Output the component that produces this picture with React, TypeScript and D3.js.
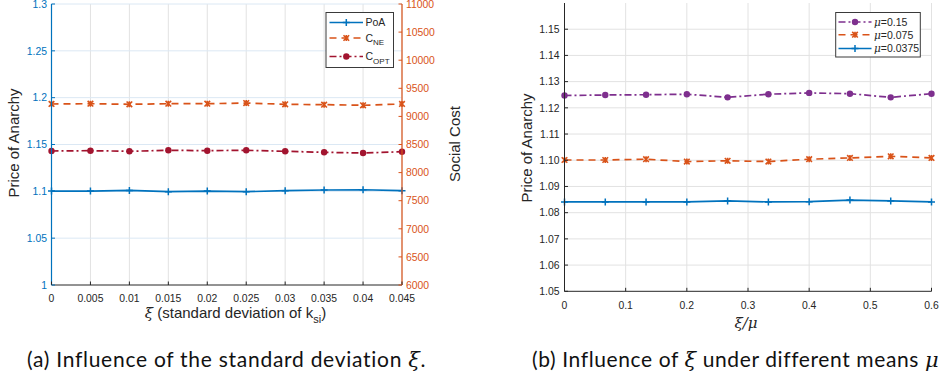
import React, { useEffect, useRef } from 'react'
import * as d3 from 'd3'

// ---- chart (a) data ----
const xiValues = [0, 0.005, 0.01, 0.015, 0.02, 0.025, 0.03, 0.035, 0.04, 0.045]
const poaValues = [1.1003, 1.1003, 1.101, 1.0996, 1.1003, 1.0996, 1.1007, 1.1014, 1.1017, 1.1007]
const cneValues = [9221, 9226, 9215, 9226, 9226, 9238, 9215, 9209, 9198, 9221]
const coptValues = [8384, 8390, 8379, 8397, 8390, 8397, 8379, 8361, 8349, 8372]
const leftTicksA = [1, 1.05, 1.1, 1.15, 1.2, 1.25, 1.3]
const rightTicksA = [6000, 6500, 7000, 7500, 8000, 8500, 9000, 9500, 10000, 10500, 11000]
const xTicksA = [0, 0.005, 0.01, 0.015, 0.02, 0.025, 0.03, 0.035, 0.04, 0.045]

// ---- chart (b) data ----
const ratioValues = [0, 1 / 15, 2 / 15, 3 / 15, 4 / 15, 5 / 15, 6 / 15, 7 / 15, 8 / 15, 9 / 15]
const mu015 = [1.1247, 1.1249, 1.125, 1.1252, 1.124, 1.1252, 1.1257, 1.1254, 1.124, 1.1254]
const mu0075 = [1.1001, 1.1001, 1.1004, 1.0995, 1.0998, 1.0995, 1.1004, 1.1009, 1.1015, 1.1009]
const mu00375 = [1.0841, 1.0841, 1.0841, 1.0841, 1.0845, 1.0841, 1.0842, 1.0848, 1.0845, 1.0841]
const yTicksB = [1.05, 1.06, 1.07, 1.08, 1.09, 1.1, 1.11, 1.12, 1.13, 1.14, 1.15]
const xTicksB = [0, 0.1, 0.2, 0.3, 0.4, 0.5, 0.6]

const BLUE = '#0072BD'
const ORANGE = '#D95319'
const RED = '#A2142F'
const PURPLE = '#7E2F8E'
const AXIS = '#262626'
const FONT = '"Liberation Sans", Arial, sans-serif'
const CAP_FONT = 'Lato, "Open Sans", sans-serif'
const SERIF = '"DejaVu Serif", "Liberation Serif", serif'

type Marker = 'plus' | 'x' | 'circle'

function drawMarker(g: d3.Selection<SVGGElement, unknown, null, undefined>, kind: Marker, x: number, y: number, color: string) {
    if (kind === 'plus') {
        g.append('path').attr('d', `M${x - 3.5},${y}H${x + 3.5}M${x},${y - 3.5}V${y + 3.5}`)
            .attr('stroke', color).attr('stroke-width', 1.5)
    } else if (kind === 'x') {
        g.append('path').attr('d', `M${x - 2.8},${y - 2.8}L${x + 2.8},${y + 2.8}M${x - 2.8},${y + 2.8}L${x + 2.8},${y - 2.8}M${x},${y - 3}V${y + 3}`)
            .attr('stroke', color).attr('stroke-width', 1.6)
    } else {
        g.append('circle').attr('cx', x).attr('cy', y).attr('r', 3.2).attr('fill', color)
    }
}

function drawSeries(g: d3.Selection<SVGGElement, unknown, null, undefined>, xs: number[], ys: number[],
    x: d3.ScaleLinear<number, number>, y: d3.ScaleLinear<number, number>, color: string, dash: string | null, marker: Marker) {
    const line = d3.line<number>().x((_, i) => x(xs[i])).y(d => y(d))
    g.append('path').attr('d', line(ys)).attr('fill', 'none').attr('stroke', color)
        .attr('stroke-width', 1.7).attr('stroke-dasharray', dash)
    ys.forEach((v, i) => drawMarker(g, marker, x(xs[i]), y(v), color))
}

export default function App() {
    const svgRef = useRef<SVGSVGElement>(null)

    useEffect(() => {
        if (!svgRef.current) return
        const svg = d3.select(svgRef.current)
        svg.selectAll('*').remove()

        // ================= chart (a) =================
        const a = { left: 51.5, right: 402, top: 4, bottom: 285 }
        const xA = d3.scaleLinear().domain([0, 0.045]).range([a.left, a.right])
        const yL = d3.scaleLinear().domain([1, 1.3]).range([a.bottom, a.top])
        const yR = d3.scaleLinear().domain([6000, 11000]).range([a.bottom, a.top])
        const gA = svg.append('g')

        // grid
        xTicksA.slice(1).forEach(t => {
            gA.append('line').attr('x1', xA(t)).attr('x2', xA(t)).attr('y1', a.top).attr('y2', a.bottom)
                .attr('stroke', '#e2e2e2').attr('stroke-width', 1)
        })
        leftTicksA.slice(1).forEach(t => {
            gA.append('line').attr('x1', a.left).attr('x2', a.right).attr('y1', yL(t)).attr('y2', yL(t))
                .attr('stroke', '#dbe8f4').attr('stroke-width', 1)
        })

        // series
        drawSeries(gA, xiValues, cneValues, xA, yR, ORANGE, '7,5', 'x')
        drawSeries(gA, xiValues, coptValues, xA, yR, RED, '7,3,2,3', 'circle')
        drawSeries(gA, xiValues, poaValues, xA, yL, BLUE, null, 'plus')

        // axes
        gA.append('line').attr('x1', a.left).attr('x2', a.right).attr('y1', a.bottom).attr('y2', a.bottom)
            .attr('stroke', AXIS).attr('stroke-width', 1)
        gA.append('line').attr('x1', a.left).attr('x2', a.left).attr('y1', a.top).attr('y2', a.bottom)
            .attr('stroke', BLUE).attr('stroke-width', 1.2)
        gA.append('line').attr('x1', a.right).attr('x2', a.right).attr('y1', a.top).attr('y2', a.bottom)
            .attr('stroke', ORANGE).attr('stroke-width', 1.2)

        xTicksA.forEach(t => {
            gA.append('line').attr('x1', xA(t)).attr('x2', xA(t)).attr('y1', a.bottom).attr('y2', a.bottom - 3.5)
                .attr('stroke', AXIS)
            gA.append('text').attr('x', xA(t)).attr('y', 301.5).attr('text-anchor', 'middle')
                .attr('font-family', FONT).attr('font-size', 10.4).attr('fill', AXIS).text(String(t))
        })
        leftTicksA.forEach(t => {
            gA.append('line').attr('x1', a.left).attr('x2', a.left + 3.5).attr('y1', yL(t)).attr('y2', yL(t))
                .attr('stroke', BLUE)
            gA.append('text').attr('x', 47).attr('y', yL(t) + 3.7).attr('text-anchor', 'end')
                .attr('font-family', FONT).attr('font-size', 10.4).attr('fill', BLUE).text(String(t))
        })
        rightTicksA.forEach(t => {
            gA.append('line').attr('x1', a.right).attr('x2', a.right - 3.5).attr('y1', yR(t)).attr('y2', yR(t))
                .attr('stroke', ORANGE)
            gA.append('text').attr('x', 406).attr('y', yR(t) + 3.7).attr('text-anchor', 'start')
                .attr('font-family', FONT).attr('font-size', 10.4).attr('fill', ORANGE).text(String(t))
        })

        gA.append('text').attr('transform', 'translate(18.5,143) rotate(-90)').attr('text-anchor', 'middle')
            .attr('font-family', FONT).attr('font-size', 15).attr('fill', AXIS).text('Price of Anarchy')
        gA.append('text').attr('transform', 'translate(459.5,144) rotate(-90)').attr('text-anchor', 'middle')
            .attr('font-family', FONT).attr('font-size', 15).attr('fill', AXIS).text('Social Cost')

        const xlabA = gA.append('text').attr('x', 235.5).attr('y', 318).attr('text-anchor', 'middle')
            .attr('font-family', FONT).attr('font-size', 15).attr('fill', AXIS)
        xlabA.append('tspan').attr('font-family', SERIF).attr('font-style', 'italic').text('ξ')
        xlabA.append('tspan').text(' (standard deviation of k')
        xlabA.append('tspan').attr('dy', 4.5).attr('font-size', 11).text('si')
        xlabA.append('tspan').attr('dy', -4.5).text(')')

        // legend (a)
        const lgA = gA.append('g')
        lgA.append('rect').attr('x', 326).attr('y', 12.5).attr('width', 67.5).attr('height', 55)
            .attr('fill', 'white').attr('stroke', '#3a3a3a').attr('stroke-width', 1)
        const legA: { label: string; sub: string | null; color: string; dash: string | null; marker: Marker; y: number }[] = [
            { label: 'PoA', sub: null, color: BLUE, dash: null, marker: 'plus', y: 22.5 },
            { label: 'C', sub: 'NE', color: ORANGE, dash: '7,5', marker: 'x', y: 38 },
            { label: 'C', sub: 'OPT', color: RED, dash: '7,3,2,3', marker: 'circle', y: 56.5 },
        ]
        legA.forEach(e => {
            lgA.append('line').attr('x1', 329.5).attr('x2', 363).attr('y1', e.y).attr('y2', e.y)
                .attr('stroke', e.color).attr('stroke-width', 1.6).attr('stroke-dasharray', e.dash)
            drawMarker(lgA, e.marker, 346.3, e.y, e.color)
            const t = lgA.append('text').attr('x', 365.5).attr('y', e.y + 3.8)
                .attr('font-family', FONT).attr('font-size', 10.5).attr('fill', AXIS)
            t.append('tspan').text(e.label)
            if (e.sub) t.append('tspan').attr('dy', 3.5).attr('font-size', 8).text(e.sub)
        })

        // ================= chart (b) =================
        const b = { left: 564.5, right: 931.5, top: 3, bottom: 291.3 }
        const xB = d3.scaleLinear().domain([0, 0.6]).range([b.left, b.right])
        const yB = d3.scaleLinear().domain([1.05, 1.16]).range([b.bottom, b.top])
        const gB = svg.append('g')

        xTicksB.slice(1).forEach(t => {
            gB.append('line').attr('x1', xB(t)).attr('x2', xB(t)).attr('y1', b.top).attr('y2', b.bottom)
                .attr('stroke', '#e2e2e2')
        })
        yTicksB.slice(1).forEach(t => {
            gB.append('line').attr('x1', b.left).attr('x2', b.right).attr('y1', yB(t)).attr('y2', yB(t))
                .attr('stroke', '#e2e2e2')
        })

        drawSeries(gB, ratioValues, mu015, xB, yB, PURPLE, '7,3,2,3', 'circle')
        drawSeries(gB, ratioValues, mu0075, xB, yB, ORANGE, '7,5', 'x')
        drawSeries(gB, ratioValues, mu00375, xB, yB, BLUE, null, 'plus')

        gB.append('line').attr('x1', b.left).attr('x2', b.right).attr('y1', b.bottom).attr('y2', b.bottom)
            .attr('stroke', AXIS)
        gB.append('line').attr('x1', b.left).attr('x2', b.left).attr('y1', b.top).attr('y2', b.bottom)
            .attr('stroke', AXIS)
        xTicksB.forEach(t => {
            gB.append('line').attr('x1', xB(t)).attr('x2', xB(t)).attr('y1', b.bottom).attr('y2', b.bottom - 3.5)
                .attr('stroke', AXIS)
            gB.append('text').attr('x', xB(t)).attr('y', 309).attr('text-anchor', 'middle')
                .attr('font-family', FONT).attr('font-size', 10.4).attr('fill', AXIS).text(String(t))
        })
        yTicksB.forEach(t => {
            gB.append('line').attr('x1', b.left).attr('x2', b.left + 3.5).attr('y1', yB(t)).attr('y2', yB(t))
                .attr('stroke', AXIS)
            gB.append('text').attr('x', 559.5).attr('y', yB(t) + 3.7).attr('text-anchor', 'end')
                .attr('font-family', FONT).attr('font-size', 10.4).attr('fill', AXIS).text(d3.format('.2f')(t))
        })

        gB.append('text').attr('transform', 'translate(532,148) rotate(-90)').attr('text-anchor', 'middle')
            .attr('font-family', FONT).attr('font-size', 15).attr('fill', AXIS).text('Price of Anarchy')
        gB.append('text').attr('x', 746).attr('y', 328).attr('text-anchor', 'middle')
            .attr('font-family', SERIF).attr('font-style', 'italic').attr('font-size', 15).attr('fill', AXIS)
            .text('ξ/μ')

        // legend (b)
        const lgB = gB.append('g')
        lgB.append('rect').attr('x', 835.7).attr('y', 12.5).attr('width', 84.6).attr('height', 44.5)
            .attr('fill', 'white').attr('stroke', '#3a3a3a')
        const legB: { label: string; color: string; dash: string | null; marker: Marker; y: number }[] = [
            { label: '=0.15', color: PURPLE, dash: '7,3,2,3', marker: 'circle', y: 22 },
            { label: '=0.075', color: ORANGE, dash: '7,5', marker: 'x', y: 34.7 },
            { label: '=0.0375', color: BLUE, dash: null, marker: 'plus', y: 48.5 },
        ]
        legB.forEach(e => {
            lgB.append('line').attr('x1', 838.5).attr('x2', 871.5).attr('y1', e.y).attr('y2', e.y)
                .attr('stroke', e.color).attr('stroke-width', 1.6).attr('stroke-dasharray', e.dash)
            drawMarker(lgB, e.marker, 855, e.y, e.color)
            const t = lgB.append('text').attr('x', 874).attr('y', e.y + 3.8)
                .attr('font-family', FONT).attr('font-size', 10.5).attr('fill', AXIS)
            t.append('tspan').attr('font-family', SERIF).attr('font-style', 'italic').text('μ')
            t.append('tspan').text(e.label)
        })

        // captions
        const capA = svg.append('text').attr('x', 27).attr('y', 367).attr('text-anchor', 'start')
            .attr('font-family', CAP_FONT).attr('font-size', 21).attr('fill', '#111')
        capA.append('tspan').text('(a) Influence of the standard deviation ')
        capA.append('tspan').attr('font-family', SERIF).attr('font-style', 'italic').text('ξ')
        capA.append('tspan').text('.')

        const capB = svg.append('text').attr('x', 532).attr('y', 367).attr('text-anchor', 'start')
            .attr('font-family', CAP_FONT).attr('font-size', 21).attr('fill', '#111')
        capB.append('tspan').text('(b) Influence of ')
        capB.append('tspan').attr('font-family', SERIF).attr('font-style', 'italic').text('ξ')
        capB.append('tspan').text(' under different means ')
        capB.append('tspan').attr('font-family', SERIF).attr('font-style', 'italic').text('μ')

        // widen caption letter spacing so caption (a) spans the same width as in the source
        const capNode = capA.node() as SVGTextElement
        const natural = capNode.getComputedTextLength()
        const nChars = (capNode.textContent || '').length
        const spacing = Math.max(0, (399 - natural) / (nChars - 1))
        capA.attr('letter-spacing', spacing)

        // caption (b): same spacing, but kept inside the page
        const capBNode = capB.node() as SVGTextElement
        const naturalB = capBNode.getComputedTextLength()
        const nB = (capBNode.textContent || '').length
        const spacingB = Math.min(spacing, Math.max(0, (938 - 532 - naturalB) / (nB - 1)))
        capB.attr('letter-spacing', spacingB)
    }, [])

    return (
        <svg ref={svgRef} width={940} height={382} viewBox="0 0 940 382"
            style={{ position: 'absolute', left: 0, top: 0, background: 'white' }} />
    )
}
